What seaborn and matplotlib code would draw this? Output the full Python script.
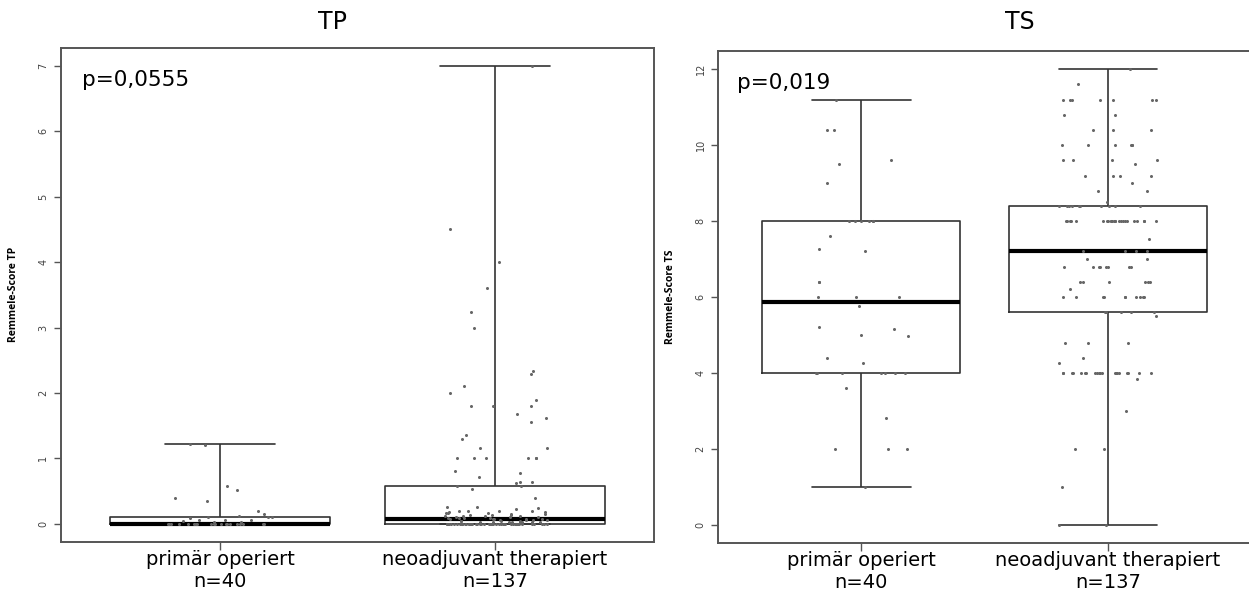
import numpy as np
import pandas as pd
import matplotlib
matplotlib.use("Agg")
import matplotlib.pyplot as plt
import seaborn as sns

groups = ["primär operiert", "neoadjuvant therapiert"]
tick_labels = ["primär operiert\nn=40", "neoadjuvant therapiert\nn=137"]

# Remmele-Score TP
tp_primaer = [0] * 21 + [0.02, 0.03, 0.04, 0.05, 0.05, 0.06, 0.08, 0.1, 0.1, 0.1,
                         0.12, 0.15, 0.2, 0.34, 0.4, 0.52, 0.58, 1.21, 1.22]
tp_neo = ([0] * 50
          + [0.02] * 4 + [0.03] * 4 + [0.04] * 4 + [0.05] * 4 + [0.07] * 5 + [0.08] * 4
          + [0.1, 0.1, 0.1, 0.11, 0.11, 0.12, 0.12, 0.13, 0.13, 0.14, 0.15, 0.15, 0.16,
             0.16, 0.17, 0.18, 0.18, 0.19, 0.2, 0.2, 0.2, 0.22, 0.24, 0.25, 0.26]
          + [0.39, 0.53, 0.58, 0.58, 0.62, 0.63, 0.63, 0.71, 0.78, 0.8]
          + [1.0] * 6
          + [1.15, 1.16, 1.3, 1.35, 1.55, 1.61, 1.68, 1.8, 1.8, 1.8, 1.89, 2.0, 2.1,
             2.29, 2.33, 3.0, 3.24, 3.6, 4.0, 4.5, 7.0])

# Remmele-Score TS
ts_primaer = ([1.0, 2.0, 2.0, 2.0, 2.8, 3.6] + [4.0] * 7
              + [4.27, 4.4, 4.97, 5.0, 5.17, 5.2, 5.76, 6.0, 6.0, 6.0, 6.4, 6.4,
                 7.2, 7.27, 7.6] + [8.0] * 6
              + [9.0, 9.5, 9.6, 10.4, 10.4, 11.2])
ts_neo = ([0, 0, 1.0, 2.0, 2.0, 3.0, 3.85] + [4.0] * 20 + [4.25, 4.4]
          + [4.8] * 3 + [5.5] + [5.6] * 5 + [6.0] * 10 + [6.2] + [6.4] * 6
          + [6.8] * 8 + [7.0] * 2 + [7.2] * 4 + [7.53] + [8.0] * 24 + [8.4] * 10
          + [8.5, 8.8, 8.8, 9.0] + [9.2] * 4 + [9.5] + [9.6] * 4 + [10.0] * 6
          + [10.4] * 3 + [10.8] * 2 + [11.2] * 7 + [11.6, 12.0])

p_values = ["p=0,0555", "p=0,019"]
titles = ["TP", "TS"]
ylabels = ["Remmele-Score TP", "Remmele-Score TS"]


def long_df(a, b):
    return pd.DataFrame({
        "Gruppe": [groups[0]] * len(a) + [groups[1]] * len(b),
        "Score": a + b,
    })


sns.set_style("white")
plt.rcParams["font.family"] = ["DejaVu Sans"]
plt.rcParams["text.color"] = "black"
plt.rcParams["xtick.color"] = "black"
np.random.seed(3)

fig = plt.figure(figsize=(12.49, 5.92), dpi=100)
ax1 = fig.add_axes([0.0488, 0.0845, 0.4748, 0.835])
ax2 = fig.add_axes([0.5749, 0.0828, 0.4267, 0.831])

panels = [
    (ax1, long_df(tp_primaer, tp_neo), (-0.28, 7.28), range(0, 8)),
    (ax2, long_df(ts_primaer, ts_neo), (-0.48, 12.48), range(0, 13, 2)),
]

for i, (ax, df, ylim, yticks) in enumerate(panels):
    sns.boxplot(data=df, x="Gruppe", y="Score", order=groups, ax=ax,
                whis=(0, 100), showfliers=False, fill=False, color="#333333",
                width=0.8, linewidth=1.2,
                medianprops=dict(color="black", linewidth=3))
    sns.stripplot(data=df, x="Gruppe", y="Score", order=groups, ax=ax,
                  jitter=0.2, size=2.2, color="#666666", marker="o",
                  linewidth=0, zorder=5)
    ax.set_xlim(-0.58, 1.58)
    ax.set_ylim(*ylim)
    ax.set_yticks(list(yticks))
    ax.set_yticklabels([str(t) for t in yticks], rotation=90, va="center",
                       fontsize=7, color="#444444")
    ax.set_xticks([0, 1])
    ax.set_xticklabels(tick_labels, fontsize=14, linespacing=1.2, color="black")
    ax.tick_params(axis="y", length=5, width=1, color="#555555", left=True, pad=4)
    ax.tick_params(axis="x", length=6, width=1, color="#555555", bottom=True, pad=0)
    ax.set_xlabel("")
    ax.set_ylabel(ylabels[i], fontsize=7.5, fontweight="bold",
                  family="Open Sans", labelpad=14, color="black")
    for sp in ax.spines.values():
        sp.set_visible(True)
        sp.set_color("#555555")
        sp.set_linewidth(1.4)
    ax.text(0.036, 0.935, p_values[i], transform=ax.transAxes,
            fontsize=15.5, ha="left", va="center", color="black")

fig.text(332 / 1249, 1 - 22 / 592, titles[0], fontsize=17, ha="center",
         va="center", color="black")
fig.text(1020 / 1249, 1 - 22 / 592, titles[1], fontsize=17, ha="center",
         va="center", color="black")

fig.savefig("out.png", dpi=100)
